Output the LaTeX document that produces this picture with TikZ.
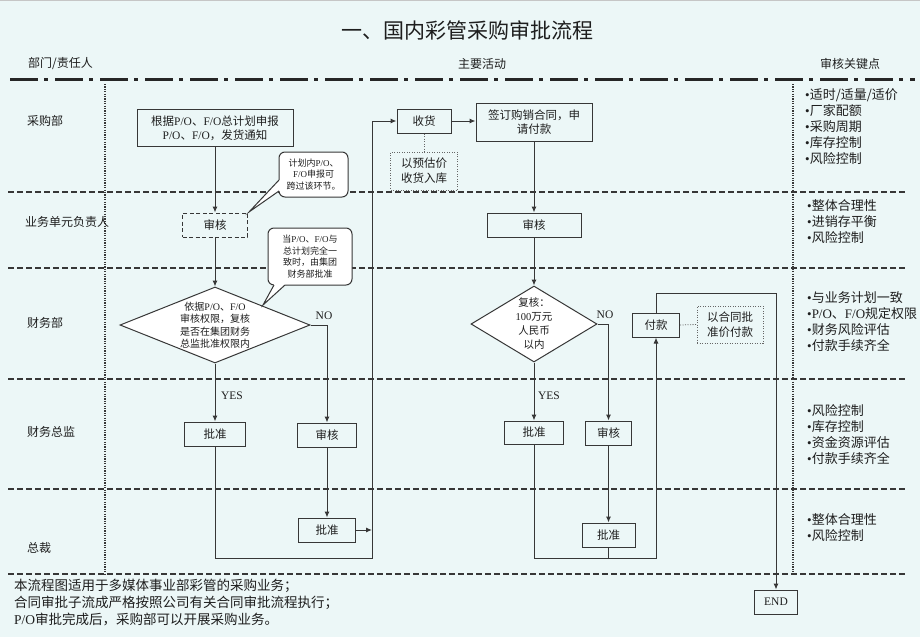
\documentclass[tikz,border=0pt]{standalone}
\usepackage{fontspec}
\setmainfont{Noto Sans CJK SC}
\newfontfamily\latfont{Liberation Serif}
\newcommand\la[1]{{\latfont #1}}
\usetikzlibrary{arrows.meta,shapes.geometric}
\definecolor{bgc}{RGB}{236,247,247}
\definecolor{ln}{RGB}{55,55,55}
\definecolor{tx}{RGB}{30,30,30}
\begin{document}
\begin{tikzpicture}[x=1pt,y=-1pt,
  every node/.style={text=tx},
  box/.style={draw=ln, line width=1pt, inner sep=0pt, align=center, font=\fontsize{11.5}{14}\selectfont},
  dashbox/.style={box, dash pattern=on 4pt off 2.5pt},
  notebox/.style={draw=gray!80!black, line width=0.8pt, dash pattern=on 1pt off 1.5pt, inner sep=0pt, align=center, font=\fontsize{11.5}{15}\selectfont},
  dia/.style={draw=ln, line width=1pt, shape=diamond, fill=white, inner sep=0pt},
  dtext/.style={align=center, inner sep=0pt},
  arr/.style={draw=ln, line width=1pt, -{Latex[length=6pt,width=5pt]}},
  conn/.style={draw=ln, line width=1pt},
  dotc/.style={draw=gray!80!black, line width=0.8pt, dash pattern=on 1pt off 1.5pt},
  lane/.style={draw=ln, line width=1.2pt, dash pattern=on 5.5pt off 3.5pt},
  vdot/.style={draw=ln, line width=1.4pt, dash pattern=on 1.2pt off 1.2pt},
  lbl/.style={anchor=west, inner sep=0pt, font=\fontsize{12}{14}\selectfont},
  key/.style={anchor=west, inner sep=0pt, align=left, font=\fontsize{13}{16}\selectfont},
  yn/.style={inner sep=0pt, font=\latfont\fontsize{11.5}{13}\selectfont},
  callout/.style={draw=ln, line width=1pt, fill=white, rounded corners=6pt, inner sep=0pt, align=center, font=\fontsize{9}{11.5}\selectfont}
]
\fill[bgc] (0,0) rectangle (920,637);
\useasboundingbox (0,0) rectangle (920,637);
\fill[gray!45] (0,0) rectangle (920,1.2);

% title and header
\node[font=\fontsize{21}{24}\selectfont] (title) at (467,30) {一、国内彩管采购审批流程};
\node[lbl] (h1) at (28,64) {部门/责任人};
\node[font=\fontsize{12}{14}\selectfont, inner sep=0pt] (h2) at (482,64) {主要活动};
\node[font=\fontsize{12}{14}\selectfont, inner sep=0pt] (h3) at (850,64) {审核关键点};
\draw[line width=3pt, draw=black!85, dash pattern=on 28pt off 6pt on 4pt off 7pt] (10,79) -- (915,79);

% lanes
\draw[vdot] (105,84) -- (105,574);
\draw[vdot] (793,84) -- (793,574);
\foreach \yy in {192,268,379,489,574} \draw[lane] (8,\yy) -- (905,\yy);

\node[lbl] (l1) at (27,121) {采购部};
\node[lbl] (l2) at (25,222) {业务单元负责人};
\node[lbl] (l3) at (27,323) {财务部};
\node[lbl] (l4) at (27,432) {财务总监};
\node[lbl] (l5) at (27,548) {总裁};

% key points
\node[key] (k1) at (805,127) {\la{•}适时/适量/适价\\\la{•}厂家配额\\\la{•}采购周期\\\la{•}库存控制\\\la{•}风险控制};
\node[key] (k2) at (807,222) {\la{•}整体合理性\\\la{•}进销存平衡\\\la{•}风险控制};
\node[key] (k3) at (807,321.5) {\la{•}与业务计划一致\\\la{•}\la{P/O}、\la{F/O}规定权限\\\la{•}财务风险评估\\\la{•}付款手续齐全};
\node[key] (k4) at (807,435) {\la{•}风险控制\\\la{•}库存控制\\\la{•}资金资源评估\\\la{•}付款手续齐全};
\node[key] (k5) at (807,528) {\la{•}整体合理性\\\la{•}风险控制};

% left flow
\node[box, minimum width=156pt, minimum height=37pt] (A) at (215,128) {根据\la{P/O}、\la{F/O}总计划申报\\\la{P/O}、\la{F/O}，发货通知};
\node[dashbox, minimum width=65pt, minimum height=24pt] (B) at (215,225) {审核};
\node[dia, minimum width=190pt, minimum height=76pt] (C) at (215,325) {};
\node[dtext, font=\fontsize{10}{12.5}\selectfont] (Ct) at (215,325) {依据\la{P/O}、\la{F/O}\\审核权限，复核\\是否在集团财务\\总监批准权限内};
\node[box, minimum width=61pt, minimum height=24pt] (D) at (215,434) {批准};
\node[box, minimum width=59pt, minimum height=24pt] (E) at (327,435) {审核};
\node[box, minimum width=57pt, minimum height=24pt] (F) at (327,530) {批准};

% callouts
\node[callout, minimum width=69pt, minimum height=45pt] (co1) at (313.5,174.5) {计划内\la{P/O}、\\\la{F/O}申报可\\跨过该环节。};
\fill[white] (280.5,180) -- (279,180) -- (249,212) -- (279,191) -- (280.5,191) -- cycle;
\draw[conn] (279,180) -- (249,212) -- (279,191);
\node[callout, minimum width=84pt, minimum height=57pt] (co2) at (310,256.5) {当\la{P/O}、\la{F/O}与\\总计划完全一\\致时，由集团\\财务部批准};
\fill[white] (274,283.5) -- (274,285) -- (263,305) -- (285,285) -- (285,283.5) -- cycle;
\draw[conn] (274,285) -- (263,305) -- (285,285);

% middle flow
\node[box, minimum width=54pt, minimum height=24pt] (G) at (424,121) {收货};
\node[notebox, minimum width=67pt, minimum height=38pt] (n1) at (424,171) {以预估价\\收货入库};
\node[box, minimum width=116pt, minimum height=38pt] (H) at (534,122) {签订购销合同，申\\请付款};
\node[box, minimum width=94pt, minimum height=24pt] (I) at (534,225) {审核};
\node[dia, minimum width=126pt, minimum height=76pt] (J) at (534,324) {};
\node[dtext, font=\fontsize{10.5}{14}\selectfont] (Jt) at (534,324) {复核：\\\la{100}万元\\人民币\\以内};
\node[box, minimum width=59pt, minimum height=23pt] (K) at (534,432.5) {批准};
\node[box, minimum width=46pt, minimum height=24pt] (L) at (608.5,433) {审核};
\node[box, minimum width=53pt, minimum height=24pt] (M) at (608.5,535) {批准};
\node[box, minimum width=47pt, minimum height=24pt] (N) at (656,325) {付款};
\node[notebox, minimum width=66pt, minimum height=37pt] (n2) at (730,324.5) {以合同批\\准价付款};
\node[box, minimum width=43pt, minimum height=24pt, font=\latfont\fontsize{11.5}{14}\selectfont] (END) at (776,602) {END};

% labels
\node[yn] (y1) at (232,396) {YES};
\node[yn] (no1) at (324,316) {NO};
\node[yn] (y2) at (549,396) {YES};
\node[yn] (no2) at (605,315) {NO};

% connectors
\coordinate (vx) at (372,558);
\coordinate (kx) at (656,558);
\coordinate (tp) at (776,293);
\draw[arr] (A.south) -- (B.north);
\draw[arr] (B.south) -- (C.north);
\draw[arr] (C.south) -- (D.north);
\draw[arr] (C.east) -| (E.north);
\draw[arr] (E.south) -- (F.north);
\draw[arr] (F.east) -- (F.east -| vx);
\draw[arr] (D.south) |- (vx) |- (G.west);
\draw[arr] (G.east) -- (G.east -| H.west);
\draw[dotc] (G.south) -- (n1.north);
\draw[arr] (H.south) -- (I.north);
\draw[arr] (I.south) -- (J.north);
\draw[arr] (J.south) -- (K.north);
\draw[arr] (J.east) -| (L.north);
\draw[arr] (L.south) -- (M.north);
\draw[arr] (K.south) |- (kx) -- (N.south);
\draw[conn] (M.south) -- (M.south |- kx);
\draw[arr] (N.north) |- (tp) -- (END.north);
\draw[dotc] (N.east) -- (n2.west);

% footer
\node[anchor=west, align=left, inner sep=0pt, font=\fontsize{13.5}{17}\selectfont] (foot) at (14,603) {本流程图适用于多媒体事业部彩管的采购业务；\\合同审批子流成严格按照公司有关合同审批流程执行；\\\la{P/O}审批完成后，采购部可以开展采购业务。};
\end{tikzpicture}
\end{document}
